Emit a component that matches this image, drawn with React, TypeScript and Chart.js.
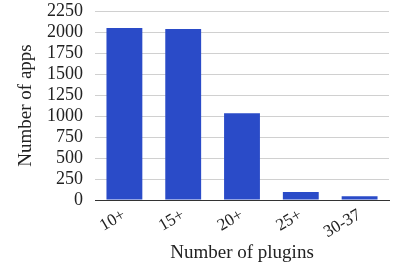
import React, { useEffect, useRef } from "react";
import { Chart, registerables } from "chart.js";

Chart.register(...registerables);

const categories = ["10+", "15+", "20+", "25+", "30-37"];
const appCounts = [2048, 2036, 1032, 95, 44];
const yTicks = [0, 250, 500, 750, 1000, 1250, 1500, 1750, 2000, 2250];

export default function App() {
  const ref = useRef<HTMLCanvasElement>(null);
  useEffect(() => {
    const ctx = ref.current!;
    const font = "'Liberation Serif', 'Times New Roman', serif";
    const chart = new Chart(ctx, {
      type: "bar",
      data: {
        labels: categories,
        datasets: [
          {
            data: appCounts,
            backgroundColor: "#2a4bc8",
            borderWidth: 0,
            categoryPercentage: 0.61,
            barPercentage: 1,
          },
        ],
      },
      options: {
        animation: false,
        responsive: false,
        maintainAspectRatio: false,
        layout: { padding: { top: 11, right: 7, left: 8, bottom: 0 } },
        plugins: { legend: { display: false }, tooltip: { enabled: false } },
        scales: {
          x: {
            afterFit: (s: any) => {
              s.height = 68;
              s.paddingLeft = 0;
              s.paddingRight = 0;
            },
            grid: { display: false, drawTicks: false },
            border: { display: true, color: "#333", width: 1 },
            ticks: {
              minRotation: 30,
              maxRotation: 30,
              autoSkip: false,
              color: "#222",
              font: { family: font, size: 17 },
              padding: 5,
            },
            title: {
              display: true,
              text: "Number of plugins",
              color: "#222",
              font: { family: font, size: 19 },
              padding: { top: 2, bottom: 4 },
            },
          },
          y: {
            min: 0,
            max: 2250,
            afterBuildTicks: (axis: any) => {
              axis.ticks = yTicks.map((v) => ({ value: v }));
            },
            afterFit: (s: any) => {
              s.width = 87;
              s.paddingTop = 0;
              s.paddingBottom = 0;
            },
            grid: { color: "#d0d0d0", lineWidth: 1, drawTicks: false },
            border: { display: false },
            ticks: {
              autoSkip: false,
              color: "#222",
              font: { family: font, size: 18 },
              padding: 12,
              callback: (v: any) => String(v),
            },
            title: {
              display: true,
              text: "Number of apps",
              color: "#222",
              font: { family: font, size: 19 },
              padding: { top: 7, bottom: 7 },
            },
          },
        },
      },
    });
    return () => chart.destroy();
  }, []);
  return (
    <div style={{ position: "fixed", left: 0, top: 0, width: 396, height: 268, background: "#fff" }}>
      <canvas ref={ref} width={396} height={268} style={{ width: 396, height: 268 }} />
    </div>
  );
}
